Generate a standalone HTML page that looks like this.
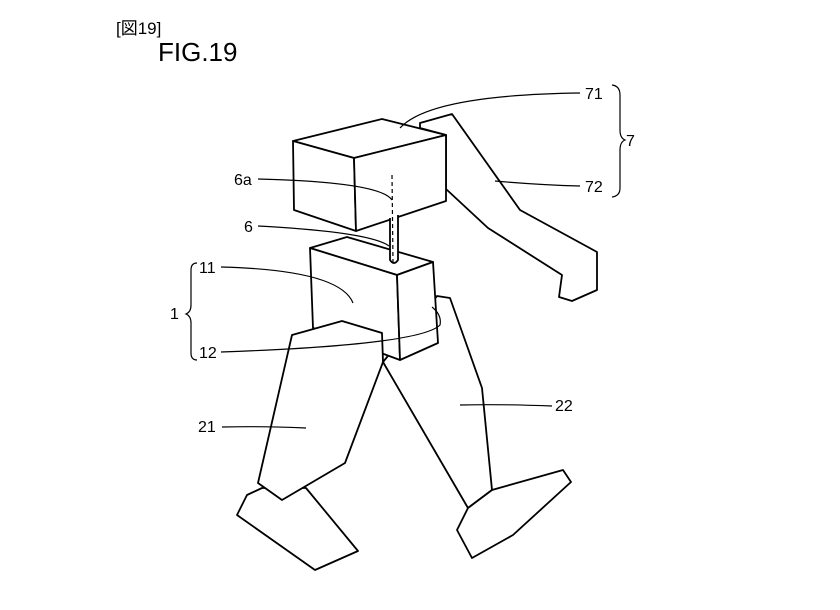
<!DOCTYPE html>
<html><head><meta charset="utf-8"><style>
html,body{margin:0;padding:0;background:#fff}
svg{display:block}
text{font-family:"Liberation Sans","Noto Sans CJK JP",sans-serif;fill:#000}
</style></head><body>
<svg width="840" height="610" viewBox="0 0 840 610" xmlns="http://www.w3.org/2000/svg">
<text x="116" y="34" font-size="17">[図19]</text>
<text x="158" y="61" font-size="26">FIG.19</text>
<g fill="#fff" stroke="#000" stroke-width="1.8" stroke-linejoin="round">
<polygon points="420,123 452,114 520,210 597,252 597,290 572,301 559,297 562,275 488,228 446,189 446,135 420,128"/>
<polygon points="437,296 450,298 482,388 492,490 468,508 383,362"/>
<polygon points="492,490 563,470 571,482 513,535 472,558 457,530 468,508"/>
<polygon points="293,141 382,119 446,135 354,158"/>
<polygon points="293,141 354,158 356,231 294,210"/>
<polygon points="354,158 446,135 446,201 356,231"/>
<polygon points="310,248 347,237 433,262 397,275"/>
<polygon points="310,248 397,275 400,360 313,328"/>
<polygon points="397,275 433,262 438,343 400,360"/>
<path d="M390,218 L390,260 Q394,266 398,260 L398,215" />
<polygon points="262,488 247,495 237,515 315,570 358,551 306,488"/>
<polygon points="292,335 342,321 382,333 383,362 345,463 282,500 258,483"/>
</g>
<g fill="none" stroke="#000" stroke-width="1.2">
<line x1="392" y1="175" x2="393" y2="262" stroke-dasharray="4,3"/>
<path d="M400,128 Q430,95 580,93"/>
<path d="M495,181 Q540,185 580,186"/>
<path d="M258,179 Q380,182 392,200"/>
<path d="M258,226 Q370,232 389,246"/>
<path d="M221,267 Q340,270 353,303"/>
<path d="M221,352 Q420,345 440,325 Q442,315 432,307"/>
<path d="M460,405 Q500,404 552,406"/>
<path d="M222,427 Q260,426 306,428"/>
<path d="M612,85 Q620,86 620,95 L620,130 Q620,138 625,140 Q620,142 620,150 L620,188 Q620,196 612,197"/>
<path d="M197,263 Q191,263 191,270 L191,305 Q191,312 186,314 Q191,316 191,323 L191,353 Q191,360 197,360"/>
</g>
<text x="585" y="99" font-size="16">71</text>
<text x="626" y="146" font-size="16">7</text>
<text x="585" y="192" font-size="16">72</text>
<text x="234" y="185" font-size="16">6a</text>
<text x="244" y="232" font-size="16">6</text>
<text x="199" y="273" font-size="16">11</text>
<text x="170" y="319" font-size="16">1</text>
<text x="199" y="358" font-size="16">12</text>
<text x="555" y="411" font-size="16">22</text>
<text x="198" y="432" font-size="16">21</text>
</svg>
</body></html>
